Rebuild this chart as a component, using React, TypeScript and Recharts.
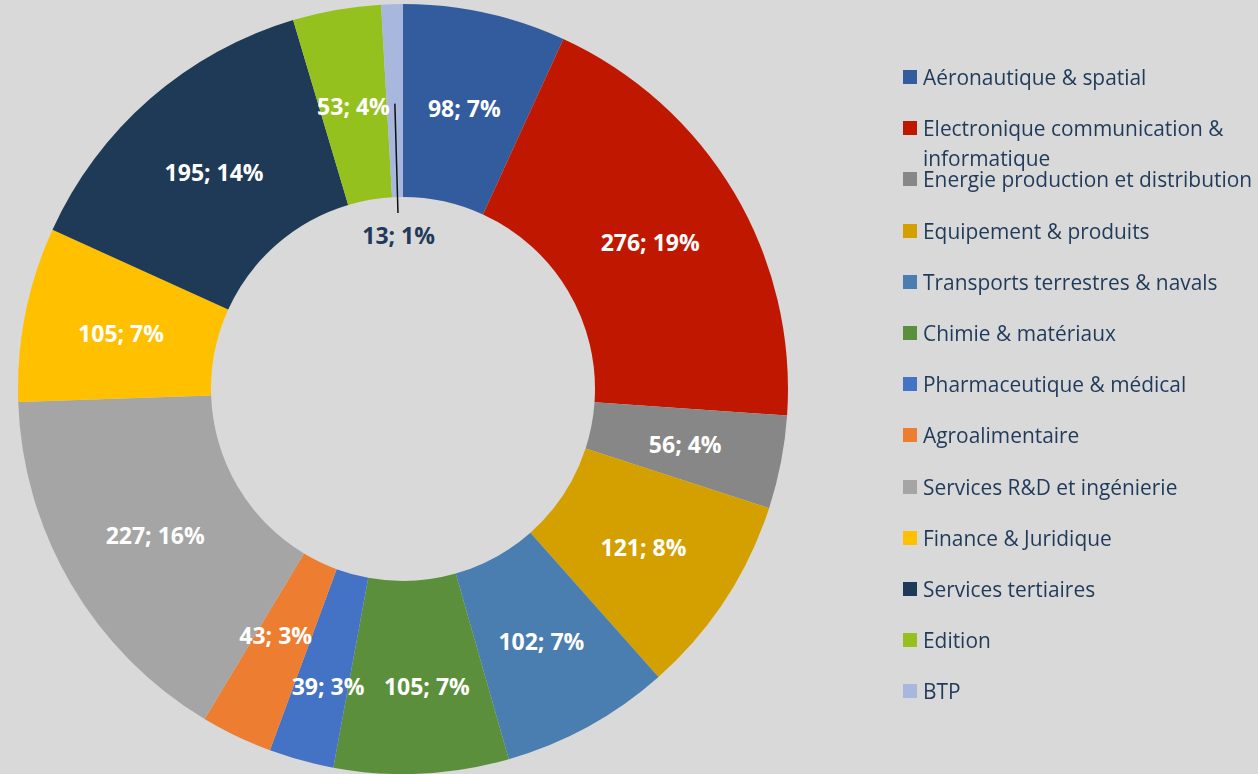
import { PieChart, Pie, Cell } from 'recharts'

const sectors = [
  'Aéronautique & spatial',
  'Electronique communication & informatique',
  'Energie production et distribution',
  'Equipement & produits',
  'Transports terrestres & navals',
  'Chimie & matériaux',
  'Pharmaceutique & médical',
  'Agroalimentaire',
  'Services R&D et ingénierie',
  'Finance & Juridique',
  'Services tertiaires',
  'Edition',
  'BTP',
]

const counts = [98, 276, 56, 121, 102, 105, 39, 43, 227, 105, 195, 53, 13]

const colors = [
  '#335c9e', '#c01800', '#878787', '#d4a000', '#4a7eb0', '#5b8f3b', '#4472c4',
  '#ed7d31', '#a5a5a5', '#ffc000', '#1e3a56', '#95c11f', '#a8b7dd',
]

const data = sectors.map((name, i) => ({ name, value: counts[i] }))

// nudges for the crowded labels at the bottom, so they don't collide
const labelNudge: Record<string, [number, number]> = {
  'Chimie & matériaux': [10, 10],
  'Pharmaceutique & médical': [1, 20],
  Agroalimentaire: [-3, -13],
}

const RAD = Math.PI / 180
const textColor = '#1f3a5a'

const renderLabel = (props: any) => {
  const { cx, cy, midAngle, innerRadius, outerRadius, value, percent, name } = props
  const pct = Math.round(percent * 100)
  const text = `${value}; ${pct}%`
  const cos = Math.cos(-midAngle * RAD)
  const sin = Math.sin(-midAngle * RAD)
  if (name === 'BTP') {
    // small slice: label pulled into the hole with a leader line
    const r1 = (innerRadius + outerRadius) / 2 - 3
    const r2 = innerRadius - 16
    const r3 = innerRadius - 38
    return (
      <g>
        <line
          x1={cx + r1 * cos}
          y1={cy + r1 * sin}
          x2={cx + r2 * cos}
          y2={cy + r2 * sin}
          stroke="#111"
          strokeWidth={1.5}
        />
        <text
          x={cx + r3 * cos}
          y={cy + r3 * sin}
          fill={textColor}
          textAnchor="middle"
          dominantBaseline="central"
          fontFamily="Open Sans"
          fontWeight={700}
          fontSize={23}
        >
          {text}
        </text>
      </g>
    )
  }
  const r = (innerRadius + outerRadius) / 2 - 1
  const [dx, dy] = labelNudge[name] || [0, 0]
  return (
    <text
      x={cx + r * cos + dx}
      y={cy + r * sin + dy}
      fill="#ffffff"
      textAnchor="middle"
      dominantBaseline="central"
      fontFamily="Open Sans"
      fontWeight={700}
      fontSize={23}
    >
      {text}
    </text>
  )
}

function SectorLegend() {
  return (
    <div
      style={{
        position: 'absolute',
        left: 903,
        top: 62,
        width: 355,
        fontFamily: 'Open Sans',
        fontSize: 20.9,
        color: textColor,
      }}
    >
      {sectors.map((s, i) => (
        <div key={s} style={{ height: 51.2, position: 'relative' }}>
          <div
            style={{
              position: 'absolute',
              left: 0,
              top: 8,
              width: 14,
              height: 14,
              background: colors[i],
            }}
          />
          <div
            style={{
              position: 'absolute',
              left: 20,
              top: 0,
              width: 338,
              lineHeight: '30px',
              whiteSpace: 'normal',
            }}
          >
            {s}
          </div>
        </div>
      ))}
    </div>
  )
}

export default function App() {
  return (
    <div
      style={{
        position: 'fixed',
        left: 0,
        top: 0,
        width: 1258,
        height: 774,
        background: '#d9d9d9',
      }}
    >
      <PieChart width={1258} height={774} margin={{ top: 0, right: 0, bottom: 0, left: 0 }}>
        <Pie
          data={data}
          dataKey="value"
          nameKey="name"
          cx={403}
          cy={389}
          innerRadius={192}
          outerRadius={385}
          startAngle={90}
          endAngle={-270}
          stroke="none"
          label={renderLabel}
          labelLine={false}
          isAnimationActive={false}
        >
          {data.map((d, i) => (
            <Cell key={d.name} fill={colors[i]} />
          ))}
        </Pie>
      </PieChart>
      <SectorLegend />
    </div>
  )
}
